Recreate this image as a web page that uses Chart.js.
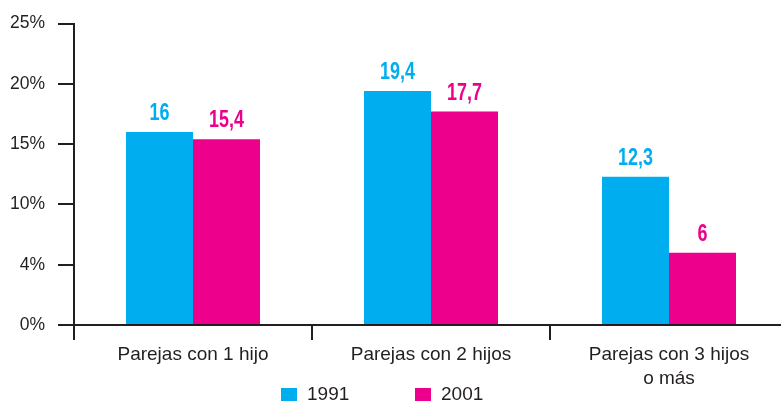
<!DOCTYPE html>
<html>
<head>
<meta charset="utf-8">
<script src="https://cdn.jsdelivr.net/npm/chart.js@4/dist/chart.umd.min.js"></script>
<style>
    html, body { margin: 0; padding: 0; background: #fff; overflow: hidden; }
    #wrap { width: 790px; height: 401px; }
</style>
</head>
<body>
<div id="wrap"><canvas id="chart"></canvas></div>
<script>
const categories = ['Parejas con 1 hijo', 'Parejas con 2 hijos', ['Parejas con 3 hijos', 'o más']];
const seriesNames = ['1991', '2001'];
const values1991 = [16, 19.4, 12.3];
const values2001 = [15.4, 17.7, 6];
const yTickLabels = ['0%', '4%', '10%', '15%', '20%', '25%'];

const ink = '#231f20';
const blue = '#00aeef';
const pink = '#ec008c';

// numbers above each bar, with a decimal comma (squeezed to look condensed)
const barLabels = {
    id: 'barLabels',
    afterDatasetsDraw(chart) {
        let ctx = chart.ctx;
        let squeeze = 0.78;
        chart.data.datasets.forEach((ds, i) => {
            let meta = chart.getDatasetMeta(i);
            meta.data.forEach((bar, j) => {
                ctx.save();
                ctx.translate(bar.x, bar.y - 12);
                ctx.scale(squeeze, 1);
                ctx.font = 'bold 23px "Liberation Sans", Arial, sans-serif';
                ctx.textAlign = 'center';
                ctx.textBaseline = 'alphabetic';
                ctx.fillStyle = ds.backgroundColor;
                ctx.fillText(String(ds.data[j]).replace('.', ','), 0, 0);
                ctx.restore();
            });
        });
    }
};

// legend at the bottom, spaced like the original
const bottomLegend = {
    id: 'bottomLegend',
    afterDraw(chart) {
        let ctx = chart.ctx;
        let y = chart.chartArea.bottom + 63;
        let xs = [281, 415];
        ctx.save();
        ctx.font = '19px "Liberation Sans", Arial, sans-serif';
        ctx.textBaseline = 'top';
        ctx.textAlign = 'left';
        chart.data.datasets.forEach((ds, i) => {
            ctx.fillStyle = ds.backgroundColor;
            ctx.fillRect(xs[i], y, 16, 16);
            ctx.fillStyle = ink;
            ctx.fillText(ds.label, xs[i] + 26, y - 3);
        });
        ctx.restore();
    }
};

new Chart('chart', {
    type: 'bar',
    data: {
        labels: categories,
        datasets: [
            { label: seriesNames[0], data: values1991, backgroundColor: blue },
            { label: seriesNames[1], data: values2001, backgroundColor: pink }
        ]
    },
    options: {
        responsive: true,
        maintainAspectRatio: false,
        animation: false,
        categoryPercentage: 0.563,
        barPercentage: 1,
        layout: { padding: { top: 23, right: 2, left: 0, bottom: 0 } },
        plugins: {
            legend: { display: false },
            tooltip: { enabled: false }
        },
        scales: {
            x: {
                grid: {
                    drawOnChartArea: false,
                    offset: true,
                    tickLength: 15,
                    lineWidth: 2,
                    color: ink
                },
                border: { color: ink, width: 2 },
                ticks: {
                    color: ink,
                    padding: 2,
                    font: { family: '"Liberation Sans", Arial, sans-serif', size: 19, lineHeight: 1.3 }
                },
                afterFit(scale) { scale.height = 76; }
            },
            y: {
                min: 0,
                max: 25,
                ticks: {
                    stepSize: 5,
                    color: ink,
                    padding: 13,
                    font: { family: '"Liberation Sans", Arial, sans-serif', size: 17.5 },
                    callback: (v, i) => yTickLabels[i]
                },
                grid: {
                    drawOnChartArea: false,
                    tickLength: 16,
                    lineWidth: 2,
                    color: ink
                },
                border: { color: ink, width: 2 },
                afterFit(scale) { scale.width = 74; }
            }
        }
    },
    plugins: [barLabels, bottomLegend]
});
</script>
</body>
</html>
